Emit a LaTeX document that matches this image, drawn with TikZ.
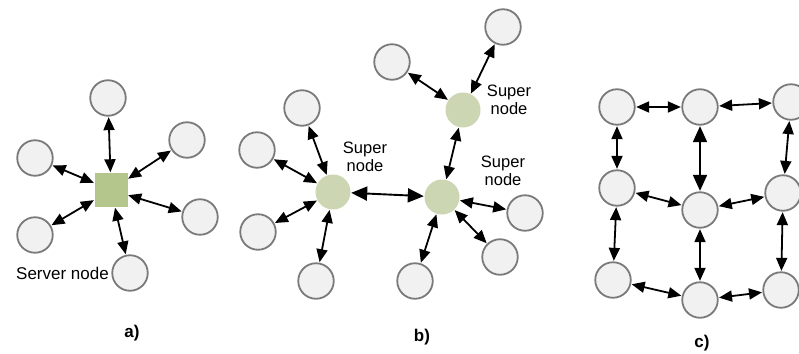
\documentclass[tikz,border=0pt]{standalone}
\usepackage{fontspec}
\setmainfont{Liberation Sans}
\usetikzlibrary{arrows.meta}
\definecolor{peerfill}{HTML}{F1F1F1}
\definecolor{peerdraw}{HTML}{7A7A7A}
\definecolor{superfill}{HTML}{CDD6B2}
\definecolor{serverfill}{HTML}{B4C68C}
\tikzset{
  peer/.style={circle, draw=peerdraw, line width=1.8pt, fill=peerfill, minimum size=35.5pt, inner sep=0pt},
  supernode/.style={circle, fill=superfill, minimum size=35pt, inner sep=0pt},
  servernode/.style={rectangle, fill=serverfill, minimum width=33pt, minimum height=34pt, inner sep=0pt},
  arr/.style={{Triangle[length=13pt,width=11pt]}-{Triangle[length=13pt,width=11pt]}, line width=1.8pt, shorten <=0.5pt, shorten >=0.5pt},
  bigarr/.style={{Triangle[length=16pt,width=14pt]}-{Triangle[length=16pt,width=14pt]}, line width=1.9pt, shorten <=0.5pt, shorten >=0.5pt},
  lbl/.style={font=\fontsize{16.5}{17.5}\selectfont, align=center, inner sep=0pt},
  captext/.style={font=\fontsize{17}{18}\selectfont\bfseries, inner sep=0pt}
}
\begin{document}
\begin{tikzpicture}[x=1pt,y=-1pt]
\useasboundingbox[fill=white] (0,0) rectangle (799,353);
% ---------- a) ----------
\node[servernode] (S) at (111,190) {};
\node[peer] (a1) at (108,98) {};
\node[peer] (a2) at (187,140) {};
\node[peer] (a3) at (200,217) {};
\node[peer] (a4) at (130,273) {};
\node[peer] (a5) at (35,235) {};
\node[peer] (a6) at (35,158) {};
\foreach \n in {a1,a2,a3,a4,a5,a6} \draw[arr] (S) -- (\n);
\node[lbl, anchor=west, font=\fontsize{17}{18}\selectfont] (srvlbl) at (16,273) {Server node};
\node[captext] (capa) at (132,333) {a)};
% ---------- b) ----------
\node[supernode] (L) at (333,192) {};
\node[supernode] (R) at (442,197) {};
\node[supernode] (T) at (463,110) {};
\node[peer] (b1) at (302,108) {};
\node[peer] (b2) at (257,150) {};
\node[peer] (b3) at (258,232) {};
\node[peer] (b4) at (316,281) {};
\node[peer] (b5) at (392,62) {};
\node[peer] (b6) at (503,27) {};
\node[peer] (b7) at (525,213) {};
\node[peer] (b8) at (500,257) {};
\node[peer] (b9) at (415,281) {};
\foreach \n in {b1,b2,b3,b4} \draw[arr] (L) -- (\n);
\foreach \n in {b5,b6} \draw[arr] (T) -- (\n);
\foreach \n in {b7,b8,b9} \draw[arr] (R) -- (\n);
\draw[arr] (T) -- (R);
\draw[bigarr] (L) -- (R);
\node[lbl] (sl1) at (365,157) {Super\\node};
\node[lbl] (sl2) at (509,100) {Super\\node};
\node[lbl] (sl3) at (503,171) {Super\\node};
\node[captext] (capb) at (422,337) {b)};
% ---------- c) ----------
\node[peer] (c11) at (617,107) {};
\node[peer] (c12) at (700,107) {};
\node[peer] (c13) at (791,102) {};
\node[peer] (c21) at (617,188) {};
\node[peer] (c22) at (700,210) {};
\node[peer] (c23) at (783,193) {};
\node[peer] (c31) at (613,280) {};
\node[peer] (c32) at (700,300) {};
\node[peer] (c33) at (781,290) {};
\draw[arr] (c11) -- (c12);
\draw[arr] (c12) -- (c13);
\draw[arr] (c11) -- (c21);
\draw[bigarr] (c12) -- (c22);
\draw[arr] (c13) -- (c23);
\draw[arr] (c21) -- (c22);
\draw[arr] (c22) -- (c23);
\draw[arr] (c21) -- (c31);
\draw[arr] (c22) -- (c32);
\draw[arr] (c23) -- (c33);
\draw[arr] (c31) -- (c32);
\draw[arr] (c32) -- (c33);
\node[captext] (capc) at (702,343) {c)};
\end{tikzpicture}
\end{document}
